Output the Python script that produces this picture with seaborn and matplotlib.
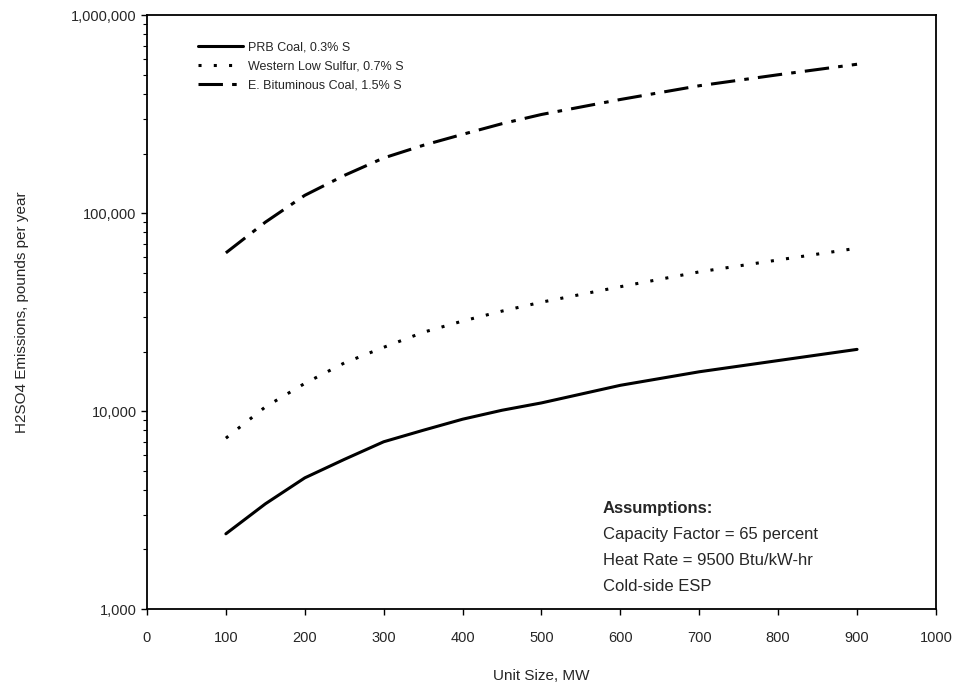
import matplotlib
matplotlib.use("Agg")
import matplotlib.pyplot as plt
from matplotlib.ticker import FuncFormatter, LogLocator, NullFormatter
import seaborn as sns
import pandas as pd

# values (pounds per year)
unit_mw = [100, 150, 200, 250, 300, 350, 400, 450, 500, 600, 700, 800, 900]
prb_coal = [2400, 3400, 4600, 5700, 7000, 8000, 9100, 10100, 11000, 13500, 15800, 18000, 20500]
western_low_s = [7300, 10500, 13800, 17500, 21000, 25000, 28500, 32000, 35500, 42500, 50500, 58000, 66500]
e_bituminous = [63000, 90000, 123000, 155000, 190000, 220000, 250000, 283000, 315000, 375000, 440000, 500000, 565000]

series_names = ['PRB Coal, 0.3% S', 'Western Low Sulfur, 0.7% S', 'E. Bituminous Coal, 1.5% S']
x_ticks = list(range(0, 1001, 100))
y_ticks = [1000, 10000, 100000, 1000000]
notes = ['Capacity Factor = 65 percent', 'Heat Rate = 9500 Btu/kW-hr', 'Cold-side ESP']

df = pd.DataFrame({
    'mw': unit_mw * 3,
    'lbs': prb_coal + western_low_s + e_bituminous,
    'fuel': [series_names[0]] * len(unit_mw) + [series_names[1]] * len(unit_mw) + [series_names[2]] * len(unit_mw),
})

sns.set_style("ticks")
plt.rcParams['font.family'] = ['Liberation Sans', 'DejaVu Sans']

fig = plt.figure(figsize=(9.57, 6.89), dpi=100)
ax = fig.add_axes([0.1536, 0.116, 0.8244, 0.862])

ax = sns.lineplot(
    data=df,
    x='mw',
    y='lbs',
    hue='fuel',
    style='fuel',
    hue_order=series_names,
    style_order=series_names,
    palette=['black', 'black', 'black'],
    dashes={series_names[0]: '', series_names[1]: (1, 4), series_names[2]: (8, 3, 1.5, 3)},
    linewidth=2.2,
    ax=ax,
)

ax.set_yscale('log')
ax.set_xlim(0, 1000)
ax.set_ylim(1000, 1000000)
ax.set_xticks(x_ticks)
ax.set_xticklabels([str(t) for t in x_ticks], fontsize=10.5)
ax.set_yticks(y_ticks)
ax.yaxis.set_major_formatter(FuncFormatter(lambda v, p: f"{v:,.0f}"))
ax.yaxis.set_minor_locator(LogLocator(base=10, subs=range(2, 10)))
ax.yaxis.set_minor_formatter(NullFormatter())
ax.tick_params(axis='y', labelsize=10.5)
ax.tick_params(axis='both', which='major', direction='out', length=4, width=1, color='black')
ax.tick_params(axis='x', which='major', pad=12)
ax.tick_params(axis='y', which='minor', direction='out', length=3, width=0.8, color='black')
for s in ax.spines.values():
    s.set_color('black')
    s.set_linewidth(1.3)

ax.set_xlabel('Unit Size, MW', fontsize=11, labelpad=17)
ax.set_ylabel('H2SO4 Emissions, pounds per year', fontsize=11, labelpad=30)

handles, labels = ax.get_legend_handles_labels()
leg = ax.legend(handles, labels, loc='upper left', bbox_to_anchor=(0.05, 0.975), frameon=False,
                fontsize=9, handlelength=3.6, handletextpad=0.4, labelspacing=0.55)

ax.text(0.578, 0.17, 'Assumptions:', transform=ax.transAxes, fontsize=12,
        fontweight='bold', va='center')
for i, line in enumerate(notes):
    ax.text(0.578, 0.17 - 0.044 * (i + 1), line, transform=ax.transAxes, fontsize=12, va='center')

fig.savefig('out.png', dpi=100)
